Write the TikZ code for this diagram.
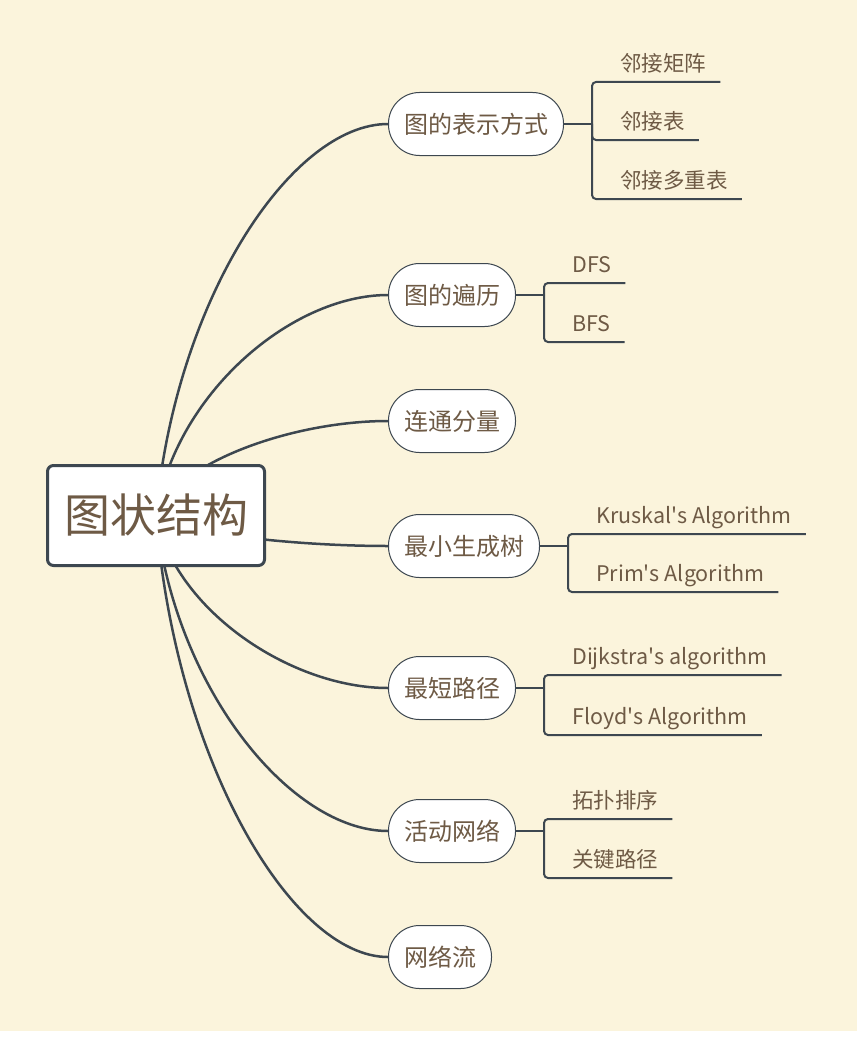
\documentclass[tikz,border=0pt]{standalone}
\usepackage{fontspec}
\setmainfont{Noto Sans CJK SC}
\usepackage{tikz}
\usetikzlibrary{calc}
\usetikzlibrary{backgrounds}
\definecolor{linegray}{HTML}{3D4750}
\definecolor{textbrown}{HTML}{6E5A45}
\definecolor{paper}{HTML}{FBF4DC}
\tikzset{
    root/.style={draw=linegray, line width=3pt, fill=white, rounded corners=6pt,
        minimum width=217pt, minimum height=100pt, text=textbrown,
        font=\fontsize{46}{50}\selectfont},
    topic/.style={draw=linegray, line width=1pt, fill=white, rounded corners=31pt,
        minimum height=63pt, inner xsep=15.5pt, anchor=west, text=textbrown,
        font=\fontsize{24}{28}\selectfont},
    leaf/.style={anchor=south west, inner xsep=14pt, inner ysep=10pt, text depth=0pt,
        text=textbrown, font=\fontsize{21.5}{26}\selectfont},
    branch/.style={draw=linegray, line width=2.5pt},
    twig/.style={draw=linegray, line width=2pt, rounded corners=4pt}
}

\begin{document}
\begin{tikzpicture}[x=1pt, y=-1pt]
    \useasboundingbox (0,0) rectangle (862,1038);

    % Root
    \node[root] (G) at (156,515.5) {图状结构};

    % Topics
    \node[topic] (B1) at (388,124) {图的表示方式};
    \node[topic] (B2) at (388,295) {图的遍历};
    \node[topic] (B3) at (388,421) {连通分量};
    \node[topic] (B4) at (388,546) {最小生成树};
    \node[topic] (B5) at (388,688) {最短路径};
    \node[topic] (B6) at (388,831) {活动网络};
    \node[topic] (B7) at (388,957) {网络流};

    % Topic #1
    \draw[twig] (B1.east) -- ++(28,0) coordinate (J1);
    \node[leaf] (K11) at (606,82) {邻接矩阵};
    \node[leaf] (K12) at (606,140) {邻接表};
    \node[leaf] (K13) at (606,199) {邻接多重表};
    \foreach \k in {K11,K12,K13}
        \draw[twig] (J1) |- (\k.south west) -- (\k.south east);

    % Topic #2
    \draw[twig] (B2.east) -- ++(28,0) coordinate (J2);
    \node[leaf] (K21) at (558,283) {DFS};
    \node[leaf] (K22) at (558,342) {BFS};
    \foreach \k in {K21,K22}
        \draw[twig] (J2) |- (\k.south west) -- (\k.south east);

    % Topic #4
    \draw[twig] (B4.east) -- ++(28,0) coordinate (J4);
    \node[leaf] (K41) at (582,534) {Kruskal\textquotesingle s Algorithm};
    \node[leaf] (K42) at (582,592) {Prim\textquotesingle s Algorithm};
    \foreach \k in {K41,K42}
        \draw[twig] (J4) |- (\k.south west) -- (\k.south east);

    % Topic #5
    \draw[twig] (B5.east) -- ++(28,0) coordinate (J5);
    \node[leaf] (K51) at (558,675) {Dijkstra\textquotesingle s algorithm};
    \node[leaf] (K52) at (558,735) {Floyd\textquotesingle s Algorithm};
    \foreach \k in {K51,K52}
        \draw[twig] (J5) |- (\k.south west) -- (\k.south east);

    % Topic #6
    \draw[twig] (B6.east) -- ++(28,0) coordinate (J6);
    \node[leaf] (K61) at (558,819) {拓扑排序};
    \node[leaf] (K62) at (558,878) {关键路径};
    \foreach \k in {K61,K62}
        \draw[twig] (J6) |- (\k.south west) -- (\k.south east);

    % Paper and branches
    \begin{scope}[on background layer]
        \fill[white] (0,0) rectangle (862,1038);
        \fill[paper] (0,0) rectangle (857,1031);
        \foreach \i in {1,...,7}
            \draw[branch] (G.center) .. controls ($(G.center)!.55!(G.center|-B\i.west)+(19,0)$)
                and ($(B\i.west)+(-97,0)$) .. (B\i.west);
    \end{scope}
\end{tikzpicture}
\end{document}
